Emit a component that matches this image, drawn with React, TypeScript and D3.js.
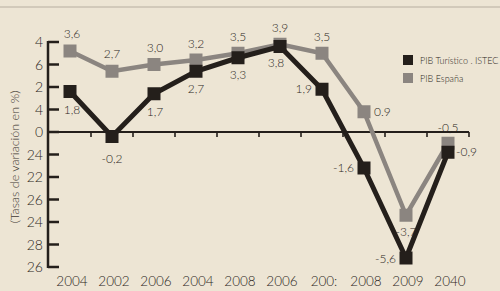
import React, { useEffect, useRef } from "react";
import * as d3 from "d3";

// categories / tick labels as printed on the chart
const years = ["2004", "2002", "2006", "2004", "2008", "2006", "200:", "2008", "2009", "2040"];
const yTickValues = [4, 3, 2, 1, 0, -1, -2, -3, -4, -5, -6];
const yTickLabels = ["4", "6", "2", "4", "0", "24", "22", "26", "24", "28", "26"];

// series (tasas de variación en %)
const pibTuristico = [1.8, -0.2, 1.7, 2.7, 3.3, 3.8, 1.9, -1.6, -5.6, -0.9];
const pibEspana = [3.6, 2.7, 3.0, 3.2, 3.5, 3.9, 3.5, 0.9, -3.7, -0.5];
const turLabels = ["1,8", "-0,2", "1,7", "2,7", "3,3", "3,8", "1,9", "-1,6", "-5,6", "-0,9"];
const espLabels = ["3,6", "2,7", "3,0", "3,2", "3,5", "3,9", "3,5", "0.9", "-3,7", "-0,5"];

const PAPER = "#ede5d4";
const DARK = "#241f1b";
const GREY = "#8b8580";
const TEXT = "#2c2622";
const FONT = "Lato, 'Open Sans', sans-serif";

const App = () => {
  const svgRef = useRef<SVGSVGElement | null>(null);

  useEffect(() => {
    const root = d3.select(svgRef.current);
    root.selectAll("*").remove();

    const W = 500;
    const H = 291;
    root.attr("width", W).attr("height", H);

    root.append("rect").attr("width", W).attr("height", H).attr("fill", PAPER);
    // rule under the (cut off) headline
    root.append("line").attr("x1", 0).attr("x2", W).attr("y1", 7).attr("y2", 7)
      .attr("stroke", "#b7aea0").attr("stroke-width", 1);

    const x = d3.scaleBand<number>().domain(d3.range(years.length)).range([49, 469]);
    const cx = (i: number) => (x(i) as number) + x.bandwidth() / 2;
    const y = d3.scaleLinear().domain([-6, 4]).range([267, 42]);

    // y axis
    const g = root.append("g").attr("font-family", FONT).attr("font-weight", 300);
    g.append("line").attr("x1", 48).attr("x2", 48).attr("y1", y(4) - 1).attr("y2", y(-6) + 1)
      .attr("stroke", DARK).attr("stroke-width", 2.5);
    yTickValues.forEach((v, i) => {
      g.append("line").attr("x1", 48).attr("x2", 59).attr("y1", y(v)).attr("y2", y(v))
        .attr("stroke", DARK).attr("stroke-width", 2.5);
      g.append("text").attr("x", 43).attr("y", y(v) + 5).attr("text-anchor", "end")
        .attr("font-size", 14).attr("fill", TEXT).text(yTickLabels[i]);
    });

    // zero line with hanging ticks at band edges
    g.append("line").attr("x1", 48).attr("x2", 469).attr("y1", y(0)).attr("y2", y(0))
      .attr("stroke", DARK).attr("stroke-width", 2);
    d3.range(1, years.length + 1).forEach((i) => {
      const xe = i === years.length ? 469 : (x(i) as number);
      g.append("line").attr("x1", xe).attr("x2", xe).attr("y1", y(0)).attr("y2", y(0) + 5)
        .attr("stroke", DARK).attr("stroke-width", 1.6);
    });

    // x labels
    years.forEach((t, i) => {
      g.append("text").attr("x", cx(i) + 2).attr("y", 286).attr("text-anchor", "middle")
        .attr("font-size", 13.5).attr("fill", TEXT).text(t);
    });

    // axis title
    g.append("text").attr("transform", "translate(19,157) rotate(-90)").attr("text-anchor", "middle")
      .attr("font-size", 12.5).attr("fill", "#3e3833").text("(Tasas de variación en %)");

    const line = d3.line<number>().x((_, i) => cx(i)).y((d) => y(d));

    // España (grey) first, Turístico (black) on top
    g.append("path").attr("d", line(pibEspana)).attr("fill", "none").attr("stroke", GREY)
      .attr("stroke-width", 4.5).attr("stroke-linejoin", "miter");
    g.selectAll(".mEsp").data(pibEspana).enter().append("rect").attr("class", "mEsp")
      .attr("x", (_, i) => cx(i) - 6.5).attr("y", (d) => y(d) - 6.5)
      .attr("width", 13).attr("height", 13).attr("fill", GREY);

    g.append("path").attr("d", line(pibTuristico)).attr("fill", "none").attr("stroke", DARK)
      .attr("stroke-width", 5).attr("stroke-linejoin", "miter");
    g.selectAll(".mTur").data(pibTuristico).enter().append("rect").attr("class", "mTur")
      .attr("x", (_, i) => cx(i) - 6.5).attr("y", (d) => y(d) - 6.5)
      .attr("width", 13).attr("height", 13).attr("fill", DARK);

    // value labels: [dx, dy, anchor]
    const turPos: [number, number, string][] = [
      [2, 22, "middle"], [0, 26, "middle"], [1, 22, "middle"], [0, 22, "middle"], [0, 21, "middle"],
      [-4, 20, "middle"], [-10, 4, "end"], [-10, 4, "end"], [-10, 5, "end"], [8, 4, "start"],
    ];
    const espPos: [number, number, string][] = [
      [2, -13, "middle"], [0, -13, "middle"], [1, -13, "middle"], [0, -12, "middle"], [0, -12, "middle"],
      [0, -12, "middle"], [0, -12, "middle"], [10, 4, "start"], [0, 21, "middle"], [0, -11, "middle"],
    ];
    pibTuristico.forEach((v, i) => {
      const [dx, dy, a] = turPos[i];
      g.append("text").attr("x", cx(i) + dx).attr("y", y(v) + dy).attr("text-anchor", a)
        .attr("font-size", 12).attr("fill", TEXT).text(turLabels[i]);
    });
    pibEspana.forEach((v, i) => {
      const [dx, dy, a] = espPos[i];
      g.append("text").attr("x", cx(i) + dx).attr("y", y(v) + dy).attr("text-anchor", a)
        .attr("font-size", 12).attr("fill", TEXT).text(espLabels[i]);
    });

    // legend
    const legend = [
      { label: "PIB Turístico . ISTEC", color: DARK },
      { label: "PIB España", color: GREY },
    ];
    legend.forEach((l, i) => {
      g.append("rect").attr("x", 403).attr("y", 55 + i * 18).attr("width", 10).attr("height", 10)
        .attr("fill", l.color);
      g.append("text").attr("x", 420).attr("y", 64 + i * 18).attr("font-size", 9)
        .attr("fill", TEXT).text(l.label);
    });
  }, []);

  return <svg ref={svgRef} style={{ position: "absolute", left: 0, top: 0, display: "block" }}></svg>;
};

export default App;
